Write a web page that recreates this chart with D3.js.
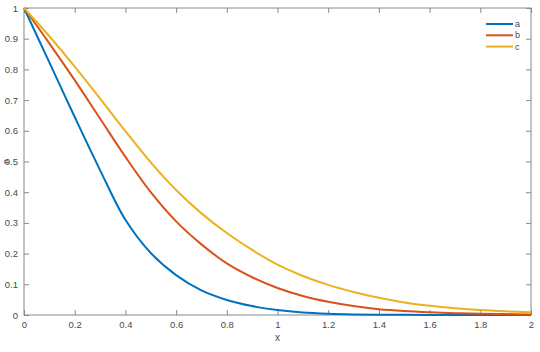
<!DOCTYPE html>
<html>
<head>
<script src="https://d3js.org/d3.v7.min.js"></script>
<style>
  body { margin: 0; padding: 0; background: #fff; }
  svg text { font-family: "Liberation Sans", Arial, sans-serif; }
</style>
</head>
<body>
<script>
// sample positions along x
var xs = [0, 0.1, 0.2, 0.3, 0.4, 0.5, 0.6, 0.7, 0.8, 0.9, 1.0,
          1.1, 1.2, 1.3, 1.4, 1.5, 1.6, 1.7, 1.8, 1.9, 2.0];

// values
var seriesA = [1, 0.823, 0.645, 0.472, 0.31, 0.202, 0.13, 0.08, 0.049, 0.029, 0.016,
               0.008, 0.004, 0.002, 0.001, 0.0005, 0.0002, 0.0001, 0, 0, 0];
var seriesB = [1, 0.885, 0.765, 0.64, 0.515, 0.40, 0.305, 0.23, 0.168, 0.123, 0.088,
               0.062, 0.043, 0.029, 0.019, 0.013, 0.009, 0.006, 0.004, 0.003, 0.002];
var seriesC = [1, 0.908, 0.809, 0.705, 0.599, 0.497, 0.407, 0.331, 0.267, 0.212, 0.164,
               0.127, 0.098, 0.075, 0.056, 0.041, 0.03, 0.022, 0.016, 0.012, 0.009];

var names = ["a", "b", "c"];
var colors = ["#0072BD", "#D95319", "#EDB120"];

var xTicks = [0, 0.2, 0.4, 0.6, 0.8, 1, 1.2, 1.4, 1.6, 1.8, 2];
var yTicks = [0, 0.1, 0.2, 0.3, 0.4, 0.5, 0.6, 0.7, 0.8, 0.9, 1];

var width = 540, height = 352;
var margin = {left: 24, right: 9, top: 8, bottom: 37};
var w = width - margin.left - margin.right,
    h = height - margin.top - margin.bottom;

var svg = d3.select("body").append("svg")
    .attr("width", width)
    .attr("height", height);

var g = svg.append("g")
    .attr("transform", "translate(" + margin.left + "," + margin.top + ")");

var x = d3.scaleLinear().domain([0, 2]).range([0, w]);
var y = d3.scaleLinear().domain([0, 1]).range([h, 0]);

var axisColor = "#8a8a8a", textColor = "#4a4a4a";

// frame
g.append("rect")
    .attr("width", w).attr("height", h)
    .attr("fill", "none")
    .attr("stroke", axisColor)
    .attr("stroke-width", 1);

function styleAxis(sel, showText) {
    sel.select(".domain").remove();
    sel.selectAll(".tick line").attr("stroke", axisColor);
    sel.selectAll(".tick text")
        .attr("fill", textColor)
        .attr("font-size", "9.5px")
        .style("display", showText ? null : "none");
}

var fmt = function(d) { return d3.format("")(+d.toFixed(1)); };

g.append("g").attr("transform", "translate(0," + h + ")")
    .call(d3.axisBottom(x).tickValues(xTicks).tickFormat(fmt).tickSizeInner(-5).tickPadding(6))
    .call(styleAxis, true);
g.append("g")
    .call(d3.axisTop(x).tickValues(xTicks).tickSizeInner(-5))
    .call(styleAxis, false);
g.append("g")
    .call(d3.axisLeft(y).tickValues(yTicks).tickFormat(fmt).tickSizeInner(-5).tickPadding(6))
    .call(styleAxis, true);
g.append("g").attr("transform", "translate(" + w + ",0)")
    .call(d3.axisRight(y).tickValues(yTicks).tickSizeInner(-5))
    .call(styleAxis, false);

// curves
var allSeries = [seriesA, seriesB, seriesC];
var line = d3.line()
    .x(function(d, i) { return x(xs[i]); })
    .y(function(d) { return y(d); })
    .curve(d3.curveCatmullRom.alpha(0.5));

allSeries.forEach(function(s, k) {
    g.append("path")
        .datum(s)
        .attr("fill", "none")
        .attr("stroke", colors[k])
        .attr("stroke-width", 2)
        .attr("d", line);
});

// axis labels
svg.append("text")
    .attr("x", margin.left + w / 2)
    .attr("y", 341)
    .attr("text-anchor", "middle")
    .attr("font-size", "10px")
    .attr("fill", textColor)
    .text("x");

svg.append("text")
    .attr("transform", "translate(7.5," + (margin.top + h / 2) + ")rotate(-90)")
    .attr("text-anchor", "middle")
    .attr("font-size", "8px")
    .attr("fill", textColor)
    .text("p");

// legend
var leg = g.append("g").attr("transform", "translate(" + (w - 45) + ",16)");
names.forEach(function(n, k) {
    var row = leg.append("g").attr("transform", "translate(0," + (k * 11.3) + ")");
    row.append("line")
        .attr("x1", 0).attr("x2", 27)
        .attr("stroke", colors[k]).attr("stroke-width", 2);
    row.append("text")
        .attr("x", 29).attr("dy", "0.33em")
        .attr("font-size", "9px")
        .attr("fill", textColor)
        .text(n);
});
</script>
</body>
</html>
